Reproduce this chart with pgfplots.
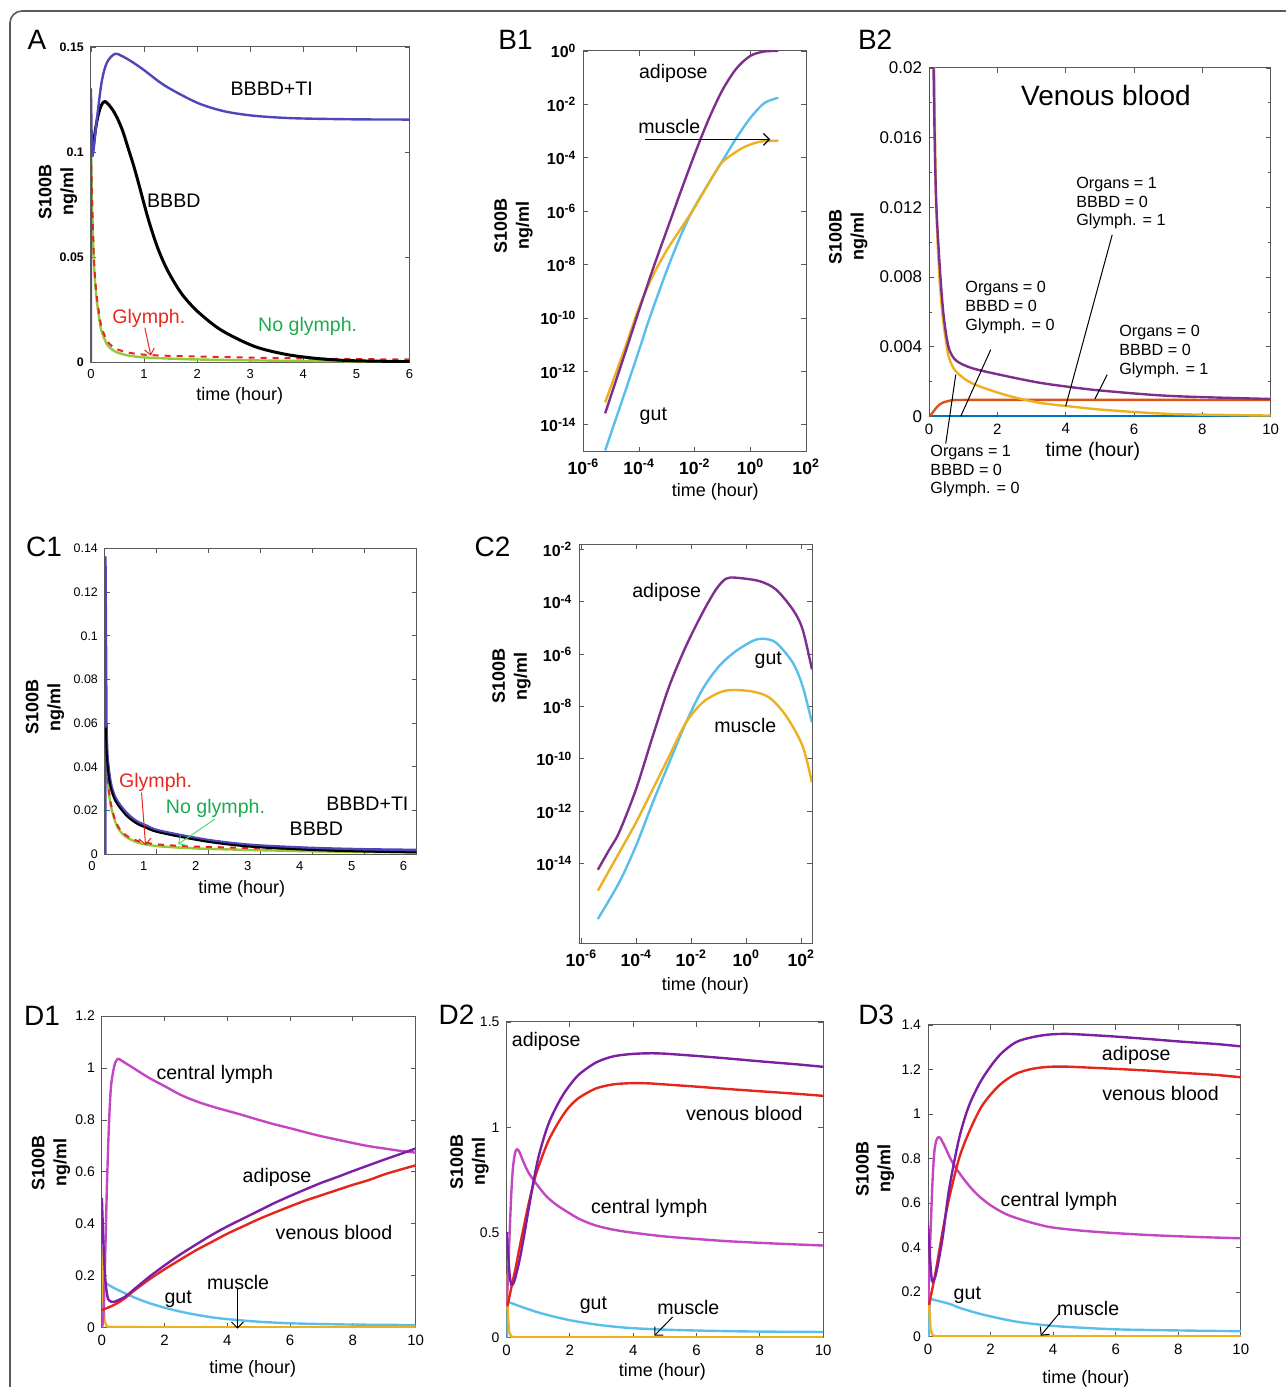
\documentclass[border=0pt]{standalone}
\usepackage{pgfplots}
\pgfplotsset{compat=1.18}
\usepackage{fontspec}
\setmainfont{Liberation Sans}
\usetikzlibrary{arrows.meta}

\definecolor{tiblue}{RGB}{78,70,185}
\definecolor{glred}{RGB}{232,40,30}
\definecolor{glgreen}{RGB}{150,200,60}
\definecolor{txgreen}{RGB}{30,170,80}
\definecolor{mpurple}{RGB}{126,47,142}
\definecolor{mblue}{RGB}{0,114,189}
\definecolor{morange}{RGB}{217,83,25}
\definecolor{myellow}{RGB}{237,177,32}
\definecolor{mlblue}{RGB}{90,190,235}
\definecolor{lymph}{RGB}{195,70,195}
\definecolor{adip}{RGB}{125,30,165}
\definecolor{venous}{RGB}{228,38,28}
\definecolor{frame}{RGB}{90,90,90}

\newcommand{\fs}[1]{\fontsize{#1}{#1}\selectfont}
\newcommand{\tp}[1]{\textbf{10\textsuperscript{#1}}}

\pgfplotsset{
  every axis/.append style={
    scale only axis, anchor=south west,
    axis line style={draw=black!65, line width=0.5pt},
    tick align=inside, major tick length=2.5pt, minor tick length=1.5pt,
    every tick/.style={black!65, line width=0.4pt},
    scaled ticks=false,
    /pgf/number format/assume math mode=true,
    clip=true,
  },
  curve/.style={line width=1.2pt, line join=round},
  sm/.style={curve, smooth, tension=0.5},
}

\begin{document}
\begin{tikzpicture}
\begin{scope}[x=0.5pt,y=-0.5pt]
  \path[use as bounding box] (0,0) rectangle (1287,1387);
  \draw[frame, line width=0.8pt, rounded corners=6pt] (10,1400) -- (10,11) -- (1300,11);
\end{scope}

% ---------------- A
\begin{axis}[at={(45.5pt,-181.5pt)}, width=159.5pt, height=158pt,
  xmin=0, xmax=6, ymin=0, ymax=0.15,
  xtick={0,1,2,3,4,5,6}, ytick={0,0.05,0.1,0.15},
  yticklabels={\textbf{0},\textbf{0.05},\textbf{0.1},\textbf{0.15}},
  xticklabel style={font=\fs{6.5}}, yticklabel style={font=\fs{6.2}}]
\addplot[curve, glgreen] coordinates {(0,0) (0,0.1)};
\addplot[sm, glgreen] coordinates {(0,0.1) (0.03,0.068) (0.06,0.046) (0.1,0.032) (0.15,0.022) (0.2,0.015) (0.3,0.0088) (0.4,0.0062) (0.5,0.0048) (0.7,0.0034) (1.0,0.0025) (1.5,0.0019) (2,0.0015) (3,0.0011) (4,0.0008) (5,0.0006) (6,0.0005)};
\addplot[line width=1pt, glred, dashed, smooth, tension=0.5] coordinates {(0,0.1) (0.03,0.07) (0.06,0.048) (0.1,0.034) (0.15,0.024) (0.2,0.017) (0.3,0.0105) (0.4,0.0078) (0.5,0.0063) (0.7,0.0048) (1.0,0.0038) (1.5,0.0032) (2,0.0029) (3,0.0024) (4,0.002) (5,0.0017) (6,0.0015)};
\addplot[sm, black, line width=1.5pt] coordinates {(0.02,0.098) (0.06,0.106) (0.1,0.113) (0.15,0.119) (0.2,0.1225) (0.25,0.124) (0.3,0.1235) (0.4,0.1205) (0.5,0.116) (0.6,0.11) (0.7,0.102) (0.8,0.094) (0.9,0.085) (1.0,0.0755) (1.1,0.0665) (1.25,0.055) (1.4,0.046) (1.55,0.039) (1.73,0.032) (2.0,0.0245) (2.45,0.0155) (3.08,0.0077) (3.7,0.0038) (4.33,0.0018) (4.96,0.0009) (6,0.0005)};
\addplot[curve, tiblue] coordinates {(0,0) (0,0.13) (0.02,0.098)};
\addplot[sm, tiblue] coordinates {(0.02,0.098) (0.05,0.101) (0.1,0.113) (0.2,0.133) (0.3,0.1425) (0.45,0.1467) (0.6,0.1455) (0.8,0.1425) (1.0,0.139) (1.4,0.1315) (2.0,0.1235) (2.5,0.1195) (3,0.1175) (3.5,0.1165) (4,0.116) (5,0.1156) (6,0.1155)};
\end{axis}

% ---------------- B1
\begin{axis}[at={(292pt,-226pt)}, width=111.5pt, height=200.5pt,
  xmin=-6, xmax=2, ymin=-15, ymax=0,
  xtick={-6,-4,-2,0,2}, xticklabels={\tp{-6},\tp{-4},\tp{-2},\tp{0},\tp{2}},
  ytick={-14,-12,-10,-8,-6,-4,-2,0},
  yticklabels={\tp{-14},\tp{-12},\tp{-10},\tp{-8},\tp{-6},\tp{-4},\tp{-2},\tp{0}},
  xticklabel style={font=\fs{8.8}}, yticklabel style={font=\fs{8}}]
\addplot[sm, mlblue] coordinates {(-5.22,-14.96) (-4.5,-12.75) (-4,-11.2) (-3.64,-10.05) (-3,-8.2) (-2.5,-6.9) (-2.08,-5.97) (-1.5,-4.95) (-1,-4.1) (-0.5,-3.25) (0,-2.5) (0.5,-1.95) (1,-1.75)};
\addplot[sm, myellow] coordinates {(-5.22,-13.16) (-4.5,-11.1) (-4,-9.6) (-3.5,-8.4) (-3,-7.45) (-2.5,-6.65) (-2,-5.85) (-1.36,-4.7) (-1,-4.15) (-0.4,-3.7) (0,-3.5) (0.44,-3.38) (1,-3.36)};
\addplot[sm, mpurple] coordinates {(-5.22,-13.57) (-4.5,-11.3) (-4,-9.7) (-3.5,-8.15) (-3,-6.7) (-2.5,-5.25) (-2,-3.85) (-1.5,-2.55) (-1,-1.45) (-0.5,-0.65) (0,-0.18) (0.5,-0.02) (1,0)};
\end{axis}

% ---------------- B2
\begin{axis}[at={(465pt,-208.5pt)}, width=171pt, height=174.5pt,
  xmin=0, xmax=10, ymin=0, ymax=0.02,
  xtick={0,2,4,6,8,10}, ytick={0,0.004,0.008,0.012,0.016,0.02},
  yticklabels={0,0.004,0.008,0.012,0.016,0.02},
  minor y tick num=1,
  xticklabel style={font=\fs{7.5}}, yticklabel style={font=\fs{8.5}}]
\addplot[curve, mblue] coordinates {(0,0) (10,0)};
\addplot[sm, morange] coordinates {(0,0) (0.1,0.00022) (0.2,0.00048) (0.3,0.00068) (0.4,0.0008) (0.58,0.0009) (0.8,0.00095) (2,0.00096) (5,0.00096) (10,0.00095)};
\addplot[sm, myellow] coordinates {(0.1,0.03) (0.15,0.02) (0.2,0.0128) (0.29,0.0084) (0.39,0.0059) (0.49,0.0044) (0.58,0.0034) (0.78,0.0026) (1.27,0.0019) (2.24,0.00124) (3.21,0.0008) (4.19,0.00057) (5.16,0.00038) (7.1,0.00015) (10,0.00006)};
\addplot[line width=0.8pt, mpurple] coordinates {(0,0) (0,0.03)};
\addplot[sm, mpurple] coordinates {(0.08,0.03) (0.13,0.02) (0.2,0.0128) (0.3,0.009) (0.4,0.0063) (0.5,0.0047) (0.6,0.0038) (0.8,0.0032) (1.27,0.00277) (2.24,0.00233) (3.21,0.00195) (4.19,0.00168) (5.16,0.00147) (7.1,0.00118) (10,0.00101)};
\end{axis}

% ---------------- C1
\begin{axis}[at={(52.5pt,-427.5pt)}, width=156pt, height=153pt,
  xmin=0, xmax=6, ymin=0, ymax=0.14,
  xtick={0,1,2,3,4,5,6}, ytick={0,0.02,0.04,0.06,0.08,0.1,0.12,0.14},
  yticklabels={0,0.02,0.04,0.06,0.08,0.1,0.12,0.14},
  xticklabel style={font=\fs{6.5}, xshift=-6.5pt}, yticklabel style={font=\fs{6.2}}]
\addplot[sm, glgreen] coordinates {(0,0.046) (0.03,0.039) (0.1,0.024) (0.2,0.0148) (0.3,0.0103) (0.42,0.0077) (0.6,0.0056) (0.75,0.0046) (1,0.0037) (1.5,0.0029) (2,0.0024) (3,0.0018) (4,0.0013) (5,0.001) (6,0.0008)};
\addplot[line width=1pt, glred, dashed, smooth, tension=0.5] coordinates {(0,0.046) (0.03,0.040) (0.1,0.025) (0.2,0.0155) (0.3,0.011) (0.42,0.0084) (0.6,0.0063) (0.75,0.0054) (1.0,0.0045) (1.5,0.0037) (2,0.0033) (3,0.0027) (4,0.0022) (5,0.0018) (6,0.0015)};
\addplot[curve, tiblue, line width=1.8pt] coordinates {(0,0) (0,0.136) (0.02,0.06)};
\addplot[sm, tiblue, line width=1.8pt] coordinates {(0.02,0.06) (0.04,0.045) (0.1,0.033) (0.2,0.0255) (0.4,0.019) (0.6,0.015) (0.8,0.0128) (1.0,0.0108) (1.5,0.0083) (2,0.0062) (2.5,0.0047) (3,0.0037) (4,0.0026) (5,0.002) (6,0.0017)};
\addplot[sm, black, line width=1pt] coordinates {(0.02,0.058) (0.04,0.044) (0.1,0.032) (0.2,0.0245) (0.4,0.018) (0.6,0.0142) (0.8,0.012) (1.0,0.0102) (1.5,0.0077) (2,0.0056) (2.5,0.0041) (3,0.0031) (4,0.0019) (5,0.0012) (6,0.0008)};
\end{axis}

% ---------------- C2
\begin{axis}[at={(290pt,-472pt)}, width=116.5pt, height=199.5pt,
  xmin=-6.07, xmax=2.4, ymin=-17.04, ymax=-1.81,
  xtick={-6,-4,-2,0,2}, xticklabels={\tp{-6},\tp{-4},\tp{-2},\tp{0},\tp{2}},
  ytick={-14,-12,-10,-8,-6,-4,-2},
  yticklabels={\tp{-14},\tp{-12},\tp{-10},\tp{-8},\tp{-6},\tp{-4},\tp{-2}},
  xticklabel style={font=\fs{8.8}}, yticklabel style={font=\fs{8}}]
\addplot[sm, mlblue] coordinates {(-5.40,-16.12) (-4.62,-14.72) (-4.01,-13.32) (-3.40,-11.67) (-2.80,-10.14) (-2.19,-8.61) (-1.59,-7.34) (-0.98,-6.45) (-0.37,-5.88) (0.23,-5.5) (0.6,-5.41) (1.08,-5.56) (1.69,-6.32) (2.05,-7.22) (2.39,-8.61)};
\addplot[sm, myellow] coordinates {(-5.40,-15.04) (-4.62,-13.58) (-4.01,-12.43) (-3.40,-11.16) (-2.80,-9.89) (-2.19,-8.61) (-1.59,-7.85) (-0.98,-7.47) (-0.5,-7.37) (0.23,-7.43) (0.84,-7.66) (1.45,-8.36) (2.05,-9.51) (2.39,-10.9)};
\addplot[sm, mpurple] coordinates {(-5.40,-14.24) (-5.0,-13.5) (-4.62,-12.8) (-4.01,-11.16) (-3.40,-9.13) (-2.80,-7.22) (-2.19,-5.69) (-1.59,-4.42) (-1.1,-3.53) (-0.74,-3.12) (-0.37,-3.08) (0.48,-3.21) (1.08,-3.53) (1.69,-4.29) (2.05,-5.05) (2.39,-6.58)};
\end{axis}

% ---------------- D1
\begin{axis}[at={(51pt,-664.5pt)}, width=157pt, height=156pt,
  xmin=0, xmax=10, ymin=0, ymax=1.2,
  xtick={0,2,4,6,8,10}, ytick={0,0.2,0.4,0.6,0.8,1,1.2},
  yticklabels={0,0.2,0.4,0.6,0.8,1,1.2},
  xticklabel style={font=\fs{7.5}}, yticklabel style={font=\fs{7}}]
\addplot[curve, mlblue] coordinates {(0,0) (0.05,0.177)};
\addplot[sm, mlblue] coordinates {(0.05,0.177) (0.4,0.152) (1,0.118) (1.5,0.095) (2,0.077) (2.5,0.062) (3,0.05) (3.5,0.04) (4,0.033) (5,0.023) (6,0.017) (7,0.014) (8,0.012) (9,0.011) (10,0.01)};
\addplot[curve, myellow] coordinates {(0,0.3) (0.03,0.15) (0.08,0.03) (0.15,0.005) (0.3,0.002) (10,0.001)};
\addplot[sm, lymph] coordinates {(0,0) (0.05,0.05) (0.1,0.25) (0.15,0.5) (0.2,0.7) (0.25,0.85) (0.3,0.94) (0.4,1.01) (0.5,1.035) (0.6,1.03) (0.8,1.015) (1,1.0) (1.5,0.962) (2,0.93) (2.5,0.897) (3,0.872) (3.5,0.852) (4,0.835) (4.5,0.818) (5,0.8) (5.5,0.783) (6,0.768) (6.5,0.752) (7,0.737) (7.5,0.724) (8,0.711) (8.5,0.699) (9,0.69) (9.5,0.681) (10,0.674)};
\addplot[sm, venous] coordinates {(0,0.068) (0.25,0.08) (0.5,0.095) (0.75,0.115) (1,0.14) (1.5,0.185) (2,0.225) (2.5,0.262) (3,0.298) (3.5,0.33) (4,0.362) (4.5,0.39) (5,0.418) (5.5,0.443) (6,0.467) (6.5,0.49) (7,0.51) (7.5,0.53) (8,0.55) (8.5,0.568) (9,0.59) (9.5,0.608) (10,0.625)};
\addplot[sm, adip] coordinates {(0,0.5) (0.05,0.32) (0.1,0.2) (0.15,0.14) (0.2,0.11) (0.3,0.1) (0.4,0.1) (0.5,0.105) (0.75,0.12) (1,0.145) (1.5,0.195) (2,0.24) (2.5,0.282) (3,0.32) (3.5,0.357) (4,0.39) (4.5,0.42) (5,0.45) (5.5,0.48) (6,0.507) (6.5,0.533) (7,0.558) (7.5,0.58) (8,0.603) (8.5,0.625) (9,0.647) (9.5,0.668) (10,0.69)};
\end{axis}

% ---------------- D2
\begin{axis}[at={(253.5pt,-669.5pt)}, width=158.5pt, height=158pt,
  xmin=0, xmax=10, ymin=0, ymax=1.5,
  xtick={0,2,4,6,8,10}, ytick={0,0.5,1,1.5},
  yticklabels={0,0.5,1,1.5},
  xticklabel style={font=\fs{7.5}}, yticklabel style={font=\fs{7}}]
\addplot[curve, mlblue] coordinates {(0.02,0) (0.05,0.17)};
\addplot[sm, mlblue] coordinates {(0.05,0.17) (0.5,0.145) (1,0.12) (1.5,0.1) (2,0.083) (2.5,0.07) (3,0.059) (3.5,0.051) (4,0.045) (5,0.038) (6,0.034) (7,0.031) (8,0.029) (9,0.028) (10,0.027)};
\addplot[curve, myellow] coordinates {(0,0.3) (0.03,0.15) (0.08,0.03) (0.15,0.005) (0.3,0.002) (10,0.002)};
\addplot[sm, lymph] coordinates {(0,0.15) (0.05,0.3) (0.1,0.5) (0.15,0.68) (0.2,0.8) (0.26,0.87) (0.32,0.895) (0.4,0.885) (0.55,0.83) (0.72,0.778) (1.0,0.72) (1.24,0.675) (1.5,0.64) (1.77,0.612) (2.3,0.564) (2.82,0.533) (3.35,0.514) (3.88,0.501) (4.93,0.482) (5.98,0.469) (7.04,0.458) (8.09,0.45) (9,0.444) (10,0.438)};
\addplot[sm, venous] coordinates {(0.03,0.15) (0.1,0.2) (0.19,0.264) (0.3,0.34) (0.4,0.42) (0.55,0.53) (0.72,0.65) (0.9,0.76) (1.03,0.82) (1.2,0.89) (1.35,0.944) (1.55,1.0) (1.77,1.054) (2.0,1.1) (2.3,1.141) (2.82,1.184) (3.35,1.203) (3.88,1.209) (4.4,1.209) (4.93,1.204) (5.98,1.193) (7.04,1.181) (8.09,1.17) (9.15,1.159) (10,1.149)};
\addplot[sm, adip] coordinates {(0,0.5) (0.05,0.4) (0.1,0.3) (0.16,0.25) (0.25,0.27) (0.4,0.36) (0.55,0.48) (0.72,0.63) (0.9,0.78) (1.03,0.87) (1.2,0.96) (1.35,1.025) (1.55,1.09) (1.77,1.15) (2.0,1.2) (2.3,1.252) (2.82,1.307) (3.35,1.336) (3.88,1.347) (4.4,1.351) (4.93,1.35) (5.98,1.339) (7.04,1.326) (8.09,1.312) (9.15,1.299) (10,1.287)};
\end{axis}

% ---------------- D3
\begin{axis}[at={(464.5pt,-669pt)}, width=156.5pt, height=156pt,
  xmin=0, xmax=10, ymin=0, ymax=1.4,
  xtick={0,2,4,6,8,10}, ytick={0,0.2,0.4,0.6,0.8,1,1.2,1.4},
  yticklabels={0,0.2,0.4,0.6,0.8,1,1.2,1.4},
  xticklabel style={font=\fs{7.5}}, yticklabel style={font=\fs{7}}]
\addplot[curve, mlblue] coordinates {(0.02,0) (0.05,0.17)};
\addplot[sm, mlblue] coordinates {(0.05,0.17) (0.67,0.148) (1,0.13) (1.73,0.1) (2.8,0.068) (3.86,0.05) (4.93,0.04) (6,0.033) (7,0.03) (8,0.028) (9,0.026) (10,0.025)};
\addplot[curve, myellow] coordinates {(0,0.3) (0.03,0.15) (0.08,0.03) (0.15,0.005) (0.3,0.002) (10,0.002)};
\addplot[sm, lymph] coordinates {(0,0.15) (0.05,0.35) (0.1,0.55) (0.15,0.72) (0.2,0.83) (0.26,0.88) (0.33,0.896) (0.4,0.89) (0.55,0.85) (0.75,0.79) (1.0,0.735) (1.3,0.68) (1.6,0.635) (2.0,0.59) (2.5,0.55) (3,0.525) (3.5,0.505) (4,0.49) (5,0.475) (6,0.465) (7,0.457) (8,0.451) (9,0.446) (10,0.442)};
\addplot[sm, venous] coordinates {(0.03,0.142) (0.24,0.29) (0.46,0.47) (0.67,0.62) (0.99,0.8) (1.31,0.919) (1.73,1.038) (2.27,1.128) (2.8,1.18) (3.33,1.203) (3.86,1.212) (4.39,1.213) (4.93,1.21) (5.99,1.203) (7.05,1.195) (8.12,1.185) (9.18,1.176) (10,1.165)};
\addplot[sm, adip] coordinates {(0,0.5) (0.05,0.38) (0.1,0.28) (0.14,0.247) (0.25,0.28) (0.46,0.44) (0.67,0.66) (0.99,0.889) (1.31,1.038) (1.73,1.158) (2.27,1.262) (2.8,1.322) (3.33,1.345) (3.86,1.357) (4.39,1.36) (4.93,1.357) (5.99,1.348) (7.05,1.337) (8.12,1.325) (9.18,1.315) (10,1.304)};
\end{axis}

% ---------------- texts and pointers
\begin{scope}[x=0.5pt,y=-0.5pt, every node/.style={inner sep=0pt}]
  \foreach \t/\xx/\yy in {A/37/40, B1/516/40, B2/876/40, C1/44/547, C2/493/547, D1/42/1017, D2/457/1016, D3/877/1016}
    \node[font=\fs{14}] at (\xx,\yy) {\t};
  \foreach \xx/\yy in {58/192, 514/226, 849/237, 45/708, 512/677, 51/1164, 470/1163, 876/1170}
    \node[rotate=90, align=center, font=\bfseries\fontsize{9}{11}\selectfont] at (\xx,\yy) {S100B\\ng/ml};
  \foreach \xx/\yy in {240/396, 716/492, 242/890, 706/987, 253/1370, 663/1373, 1087/1380}
    \node[font=\fs{9}] at (\xx,\yy) {time (hour)};
  \node[font=\fs{9.8}] at (1094,452) {time (hour)};

  % A
  \node[font=\fs{9.8}] at (272,89) {BBBD+TI};
  \node[font=\fs{9.8}] at (174,201) {BBBD};
  \node[font=\fs{9.8}, text=glred] at (149,319) {Glymph.};
  \node[font=\fs{9.8}, text=txgreen] at (308,327) {No glymph.};
  \draw[glred, line width=0.5pt, -{Straight Barb[length=3pt,width=5pt]}] (145,328) -- (151,356);

  % B1
  \node[font=\fs{9.8}] at (674,74) {adipose};
  \node[font=\fs{9.8}] at (670,127) {muscle};
  \node[font=\fs{9.8}] at (654,417) {gut};
  \draw[black, line width=0.6pt, -{Straight Barb[length=3pt,width=6pt]}] (646,139.5) -- (771,139.5);

  % B2
  \node[font=\fs{14}] at (1107,96) {Venous blood};
  \node[font=\fontsize{8.1}{9.35}\selectfont, align=left, anchor=west] at (1077,203.5) {Organs = 1\\BBBD = 0\\Glymph. = 1};
  \node[font=\fontsize{8.1}{9.35}\selectfont, align=left, anchor=west] at (966,307.7) {Organs = 0\\BBBD = 0\\Glymph. = 0};
  \node[font=\fontsize{8.1}{9.35}\selectfont, align=left, anchor=west] at (1120,351.7) {Organs = 0\\BBBD = 0\\Glymph. = 1};
  \node[font=\fontsize{8.1}{9.35}\selectfont, align=left, anchor=west] at (931,471.7) {Organs = 1\\BBBD = 0\\Glymph. = 0};
  \draw[black, line width=0.5pt] (1113.3,235) -- (1066.7,406.7);
  \draw[black, line width=0.5pt] (991.7,350) -- (961.7,416.7);
  \draw[black, line width=0.5pt] (1108.3,375) -- (1096,399.3);
  \draw[black, line width=0.5pt] (946.7,444) -- (956.7,375);

  % C1
  \node[font=\fs{9.8}, text=glred] at (155.7,783.3) {Glymph.};
  \node[font=\fs{9.8}, text=txgreen] at (215.7,809.3) {No glymph.};
  \node[font=\fs{9.8}] at (367.7,805) {BBBD+TI};
  \node[font=\fs{9.8}] at (316.7,830) {BBBD};
  \draw[glred, line width=0.5pt, -{Straight Barb[length=3pt,width=6pt]}] (141.7,793.3) -- (145.7,846);
  \draw[green!60!teal!70, line width=0.5pt, -{Straight Barb[length=3pt,width=6pt]}] (215,820) -- (178.3,845);

  % C2
  \node[font=\fs{9.8}] at (667.3,593.3) {adipose};
  \node[font=\fs{9.8}] at (769,660.7) {gut};
  \node[font=\fs{9.8}] at (746,726.7) {muscle};

  % D1
  \node[font=\fs{9.8}] at (215,1075) {central lymph};
  \node[font=\fs{9.8}] at (277.3,1179) {adipose};
  \node[font=\fs{9.8}] at (334.3,1234) {venous blood};
  \node[font=\fs{9.8}] at (238.3,1283.3) {muscle};
  \node[font=\fs{9.8}] at (178.3,1300.7) {gut};
  \draw[black, line width=0.5pt, -{Straight Barb[length=3pt,width=6pt]}] (237.7,1290) -- (237.7,1330);

  % D2
  \node[font=\fs{9.8}] at (546.7,1042.7) {adipose};
  \node[font=\fs{9.8}] at (745,1114.3) {venous blood};
  \node[font=\fs{9.8}] at (650,1209.3) {central lymph};
  \node[font=\fs{9.8}] at (594,1306.7) {gut};
  \node[font=\fs{9.8}] at (689,1309) {muscle};
  \draw[black, line width=0.5pt, -{Straight Barb[length=3pt,width=6pt]}] (673.3,1318.3) -- (655,1337);

  % D3
  \node[font=\fs{9.8}] at (1137.3,1056) {adipose};
  \node[font=\fs{9.8}] at (1161.7,1095) {venous blood};
  \node[font=\fs{9.8}] at (1060,1202.3) {central lymph};
  \node[font=\fs{9.8}] at (968.3,1296.7) {gut};
  \node[font=\fs{9.8}] at (1089.3,1310) {muscle};
  \draw[black, line width=0.5pt, -{Straight Barb[length=3pt,width=6pt]}] (1060,1315) -- (1041.7,1337);
\end{scope}
\end{tikzpicture}
\end{document}
